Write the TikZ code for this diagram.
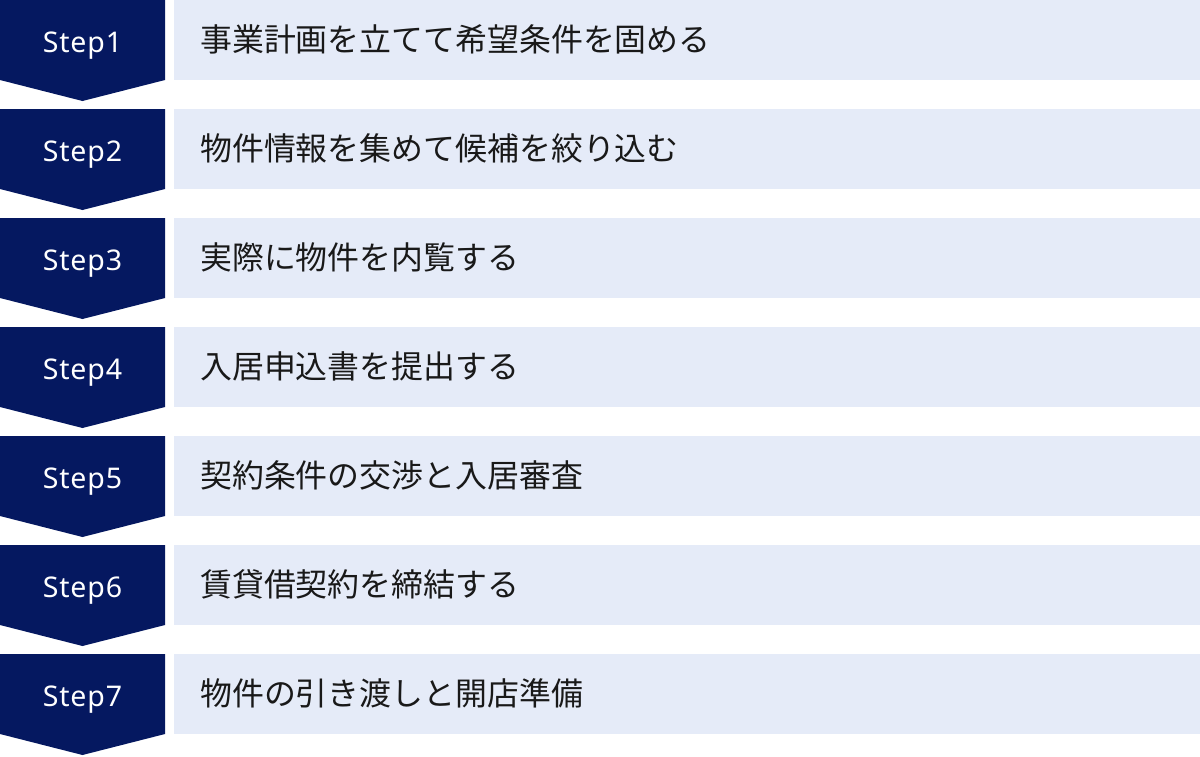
\documentclass[tikz,border=0pt]{standalone}
\usepackage{fontspec}
\setmainfont{Noto Sans CJK JP}
\newfontfamily\stepfont[LetterSpace=3]{Noto Sans}
\definecolor{navy}{RGB}{5,24,96}
\definecolor{lightbg}{RGB}{229,235,248}
\definecolor{txt}{RGB}{25,25,25}
\tikzset{
  stepshape/.style={fill=navy, draw=none},
  barbox/.style={fill=lightbg, draw=none},
  steplabel/.style={text=white, font=\stepfont\fontsize{28.5}{34}\selectfont, anchor=base, inner sep=0pt},
  barlabel/.style={text=txt, font=\fontsize{31.9}{36}\selectfont, anchor=base west, inner sep=0pt}
}
\begin{document}
\begin{tikzpicture}[x=1pt,y=-1pt]
\useasboundingbox (0,0) rectangle (1200,756);
\foreach \i/\txt in {1/事業計画を立てて希望条件を固める,2/物件情報を集めて候補を絞り込む,3/実際に物件を内覧する,4/入居申込書を提出する,5/契約条件の交渉と入居審査,6/賃貸借契約を締結する,7/物件の引き渡しと開店準備}{
  \pgfmathsetmacro{\top}{(\i-1)*109}
  \fill[stepshape] (0,\top) -- (165,\top) -- (165,\top+80) -- (82.5,\top+101) -- (0,\top+80) -- cycle;
  \fill[barbox] (174,\top) rectangle (1200,\top+80);
  \node[steplabel] (s\i) at (82.5,\top+52.3) {Step\i};
  \node[barlabel] (t\i) at (200,\top+51) {\txt};
}
\end{tikzpicture}
\end{document}
